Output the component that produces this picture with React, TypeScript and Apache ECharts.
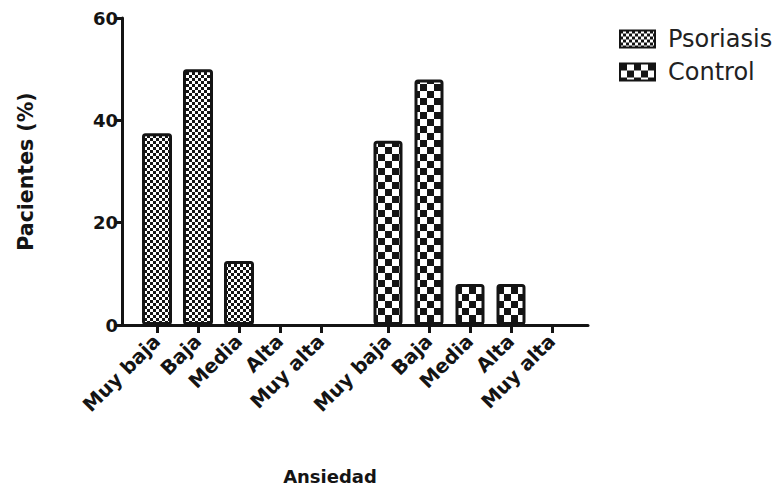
import React, { useEffect, useRef } from "react";
import * as echarts from "echarts";

const categories = ["Muy baja", "Baja", "Media", "Alta", "Muy alta"];
const psoriasis = [37.5, 50, 12.5, 0, 0];
const control = [36, 48, 8, 8, 0];
const yTicks = [0, 20, 40, 60];

const FONT = "DejaVu Sans, Liberation Sans, Arial, sans-serif";
const INK = "#141414";

function checker(cell: number) {
  const c = document.createElement("canvas");
  c.width = cell * 2;
  c.height = cell * 2;
  const ctx = c.getContext("2d")!;
  ctx.fillStyle = "#ffffff";
  ctx.fillRect(0, 0, cell * 2, cell * 2);
  ctx.fillStyle = INK;
  ctx.fillRect(0, 0, cell, cell);
  ctx.fillRect(cell, cell, cell, cell);
  return c;
}

export default function App() {
  const ref = useRef<HTMLDivElement>(null);
  useEffect(() => {
    if (!ref.current) return;
    const chart = echarts.init(ref.current, null, { renderer: "svg" });
    const top = 18;
    const bottom = 164;
    const catAxis = (gridIndex: number) => ({
      type: "category",
      gridIndex,
      data: categories,
      boundaryGap: true,
      axisLine: { show: false },
      axisTick: { show: true, alignWithLabel: true, length: 8, lineStyle: { color: INK, width: 3 } },
      axisLabel: {
        rotate: 45,
        margin: 13,
        interval: 0,
        fontFamily: FONT,
        fontWeight: "bold",
        fontSize: 19.5,
        color: INK,
      },
      splitLine: { show: false },
    });
    const hiddenY = (gridIndex: number) => ({
      type: "value",
      gridIndex,
      min: 0,
      max: 60,
      interval: 20,
      show: false,
    });
    const barStyle = (cell: number) => ({
      color: { image: checker(cell), repeat: "repeat" },
      borderColor: INK,
      borderWidth: 3,
      borderRadius: 2,
    });
    const toBars = (vals: number[]) => vals.map((v) => (v === 0 ? "-" : v));
    chart.setOption({
      animation: false,
      grid: [
        { left: 122, right: 186, top, bottom },
        { left: 136.5, width: 205, top, bottom },
        { left: 367.5, width: 205, top, bottom },
      ],
      xAxis: [
        {
          type: "value",
          gridIndex: 0,
          min: 0,
          max: 1,
          axisLine: { show: true, lineStyle: { color: INK, width: 3 } },
          axisTick: { show: false },
          axisLabel: { show: false },
          splitLine: { show: false },
        },
        catAxis(1),
        catAxis(2),
      ],
      yAxis: [
        {
          type: "value",
          gridIndex: 0,
          min: yTicks[0],
          max: yTicks[yTicks.length - 1],
          interval: 20,
          axisLine: { show: true, lineStyle: { color: INK, width: 3 } },
          axisTick: { show: true, length: 7, lineStyle: { color: INK, width: 3 } },
          axisLabel: { fontFamily: FONT, fontWeight: "bold", fontSize: 18, color: INK, margin: 4 },
          splitLine: { show: false },
          name: "Pacientes (%)",
          nameLocation: "middle",
          nameGap: 86,
          nameTextStyle: { fontFamily: FONT, fontWeight: "bold", fontSize: 20.5, color: INK },
        },
        hiddenY(1),
        hiddenY(2),
      ],
      legend: {
        orient: "vertical",
        left: 614,
        top: 22,
        itemWidth: 35,
        itemHeight: 17,
        itemGap: 9,
        icon: "rect",
        textStyle: { fontFamily: FONT, fontSize: 24, color: "#222", padding: [0, 0, 0, 8] },
        data: ["Psoriasis", "Control"],
      },
      graphic: [
        {
          type: "text",
          x: 330,
          y: 476,
          style: {
            text: "Ansiedad",
            fontFamily: FONT,
            fontWeight: "bold",
            fontSize: 18,
            fill: INK,
            textAlign: "center",
            textVerticalAlign: "middle",
          },
        },
      ],
      series: [
        {
          name: "Psoriasis",
          type: "bar",
          xAxisIndex: 1,
          yAxisIndex: 1,
          data: toBars(psoriasis),
          barWidth: 30,
          itemStyle: barStyle(3),
        },
        {
          name: "Control",
          type: "bar",
          xAxisIndex: 2,
          yAxisIndex: 2,
          data: toBars(control),
          barWidth: 29,
          itemStyle: barStyle(7),
        },
      ],
    });
    return () => chart.dispose();
  }, []);
  return <div ref={ref} style={{ width: 774, height: 489, position: "absolute", left: 0, top: 0, background: "#fff" }} />;
}
